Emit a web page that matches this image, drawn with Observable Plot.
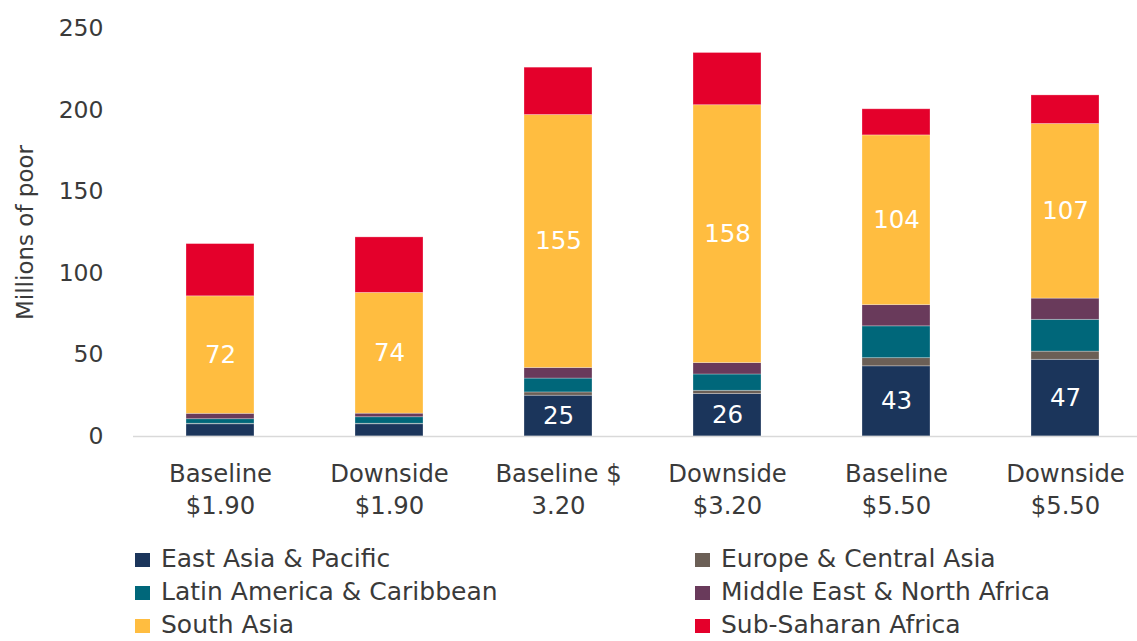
<!DOCTYPE html>
<html>
<head>
<meta charset="utf-8">
<script src="https://cdn.jsdelivr.net/npm/d3@7"></script>
<script src="https://cdn.jsdelivr.net/npm/@observablehq/plot@0.6"></script>
<style>
  html, body { margin: 0; padding: 0; background: #fff; }
  #wrap { position: relative; width: 1137px; height: 641px; overflow: hidden; font-family: "DejaVu Sans", sans-serif; }
  #chart { position: absolute; left: 0; top: 0; }
  #legend { position: absolute; left: 0; top: 530px; }
</style>
</head>
<body>
<div id="wrap">
  <div id="chart"></div>
  <div id="legend"></div>
</div>
<script>
const scenarios = ["Baseline\n$1.90", "Downside\n$1.90", "Baseline $\n3.20", "Downside\n$3.20", "Baseline\n$5.50", "Downside\n$5.50"];
const regions = ["East Asia & Pacific", "Europe & Central Asia", "Latin America & Caribbean", "Middle East & North Africa", "South Asia", "Sub-Saharan Africa"];
const colors = ["#1b355b", "#6b5f56", "#00677a", "#693a5b", "#ffbd40", "#e4002b"];

const eap  = [7.5, 7.5, 25, 26, 43, 47];
const eca  = [0.3, 0.3, 2, 2, 5, 5];
const lac  = [2.8, 4, 8.5, 10, 19.5, 19.5];
const mena = [3.3, 2.2, 6.5, 7, 13, 13];
const sa   = [72, 74, 155, 158, 104, 107];
const ssa  = [32, 34, 29, 32, 16, 17.5];

const eapLabels = ["", "", "25", "26", "43", "47"];
const saLabels  = ["72", "74", "155", "158", "104", "107"];

const series = [eap, eca, lac, mena, sa, ssa];
const labelsByRegion = [eapLabels, null, null, null, saLabels, null];
const yTicks = [0, 50, 100, 150, 200, 250];

const data = [];
regions.forEach((r, ri) => {
  scenarios.forEach((s, si) => {
    data.push({scenario: s, region: r, value: series[ri][si], label: labelsByRegion[ri] ? labelsByRegion[ri][si] : ""});
  });
});

const textColor = "#3a3a3a";

const plot = Plot.plot({
  width: 1137,
  height: 530,
  marginLeft: 133,
  marginRight: 0,
  marginTop: 28,
  marginBottom: 94,
  style: {fontFamily: "'DejaVu Sans', sans-serif", color: textColor, background: "transparent"},
  x: {domain: scenarios, range: [133, 1151], paddingInner: 0.6, paddingOuter: 0.3, label: null},
  y: {domain: [0, 250], label: null},
  color: {domain: regions, range: colors},
  marks: [
    Plot.barY(data, {x: "scenario", y: "value", fill: "region", stroke: "#ffffff", strokeOpacity: 0.35, strokeWidth: 0.8}),
    Plot.text(data, Plot.stackY({x: "scenario", y: "value", z: "region", text: "label", fill: "white", fontSize: 24.5})),
    Plot.ruleY([0], {stroke: "#d9d9d9", strokeWidth: 1.5}),
    Plot.axisY({ticks: yTicks, tickSize: 0, tickPadding: 30, fontSize: 23.5, label: null}),
    Plot.axisX({tickSize: 0, tickPadding: 23, fontSize: 24.3, lineHeight: 1.31, label: null}),
    Plot.text(["Millions of poor"], {frameAnchor: "left", textAnchor: "middle", dx: -108, rotate: -90, fontSize: 23, fill: textColor})
  ]
});
document.getElementById("chart").appendChild(plot);

// Legend
const legendSvg = d3.select("#legend").append("svg")
  .attr("width", 1137).attr("height", 111)
  .style("font-family", "'DejaVu Sans', sans-serif");
const legX = [135, 695];
const legBase = [567 - 530, 600 - 530, 633 - 530];
regions.forEach((r, i) => {
  const col = i % 2, row = Math.floor(i / 2);
  const g = legendSvg.append("g").attr("transform", `translate(${legX[col]},${legBase[row]})`);
  g.append("rect").attr("x", 0).attr("y", -14).attr("width", 15).attr("height", 14).attr("fill", colors[i]);
  g.append("text").attr("x", 26).attr("y", 0).attr("font-size", 25).attr("fill", textColor).text(r);
});
</script>
</body>
</html>
